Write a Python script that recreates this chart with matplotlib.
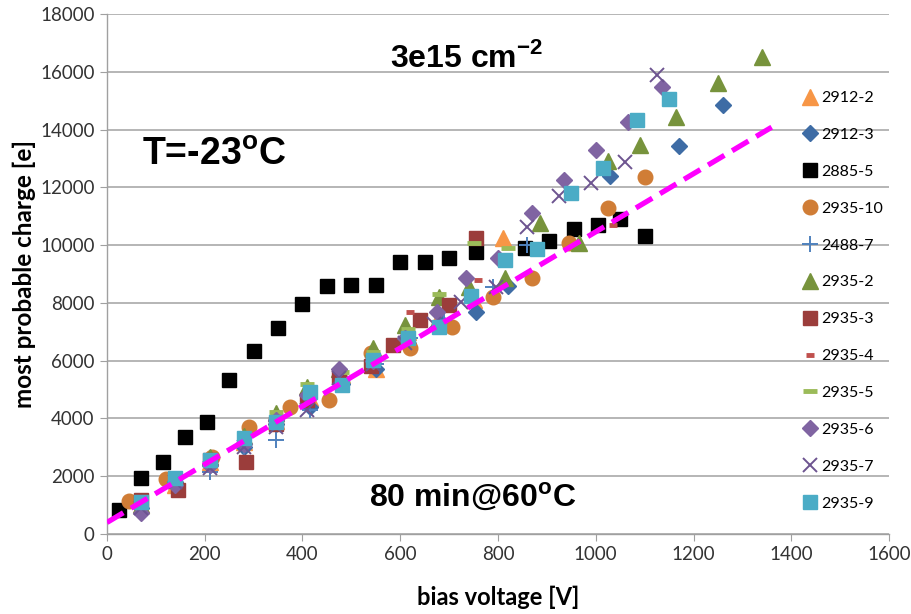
import matplotlib
matplotlib.use("Agg")
import matplotlib.pyplot as plt

plt.rcParams["mathtext.fontset"] = "custom"
plt.rcParams["mathtext.rm"] = "Liberation Sans"
plt.rcParams["mathtext.bf"] = "Liberation Sans:bold"

# ---- measured most probable charge vs. bias voltage ----
v_2912_2 = [70, 140, 210, 280, 345, 415, 480, 550, 615, 680, 750, 810]
q_2912_2 = [1000, 1700, 2500, 3200, 3900, 4700, 5500, 5700, 7000, 7500, 8100, 10240]

v_2912_3 = [70, 140, 210, 280, 345, 415, 480, 550, 615, 685, 755, 820, 1030, 1170, 1260]
q_2912_3 = [900, 1800, 2400, 3000, 3800, 4400, 5200, 5700, 6600, 7300, 7680, 8600, 12400, 13430, 14850]

v_2885_5 = [25, 70, 115, 160, 205, 250, 300, 350, 400, 450, 500, 550, 600, 650, 700,
            755, 855, 905, 955, 1005, 1050, 1100]
q_2885_5 = [830, 1930, 2500, 3370, 3890, 5330, 6350, 7120, 7960, 8580, 8620, 8620, 9400,
            9430, 9570, 9770, 9890, 10140, 10550, 10700, 10890, 10310]

v_2935_10 = [45, 120, 215, 290, 375, 455, 540, 620, 705, 790, 870, 945, 1025, 1100]
q_2935_10 = [1150, 1900, 2650, 3700, 4400, 4650, 6250, 6450, 7150, 8200, 8850, 10080, 11300, 12370]

v_2488_7 = [70, 140, 210, 280, 345, 415, 480, 550, 620, 690, 790, 860]
q_2488_7 = [900, 1800, 2150, 3000, 3250, 4300, 5400, 5900, 6800, 7400, 8560, 10000]

v_2935_2 = [70, 140, 210, 280, 345, 410, 475, 545, 610, 680, 740, 815, 885, 965,
            1025, 1090, 1165, 1250, 1340]
q_2935_2 = [1000, 1900, 2650, 3400, 4180, 5100, 5700, 6430, 7230, 8210, 8560, 8850,
            10750, 10060, 12900, 13470, 14450, 15620, 16510]

v_2935_3 = [70, 145, 210, 285, 345, 410, 475, 540, 585, 640, 700, 755]
q_2935_3 = [1180, 1520, 2560, 2480, 3800, 4640, 5450, 5800, 6540, 7410, 7930, 10240]

v_2935_4 = [70, 140, 210, 280, 350, 415, 480, 550, 620, 760, 1035]
q_2935_4 = [1100, 1800, 2500, 3300, 3950, 4600, 5300, 5900, 7690, 8790, 10700]

v_2935_5 = [70, 140, 210, 280, 345, 410, 480, 545, 615, 680, 750, 820]
q_2935_5 = [1100, 2000, 2700, 3400, 4230, 5200, 5600, 6300, 7100, 8310, 10060, 9890]

v_2935_6 = [70, 140, 210, 280, 345, 410, 475, 545, 610, 675, 735, 800, 870, 935,
            1000, 1065, 1135]
q_2935_6 = [720, 1700, 2400, 3100, 3950, 4800, 5700, 6000, 6800, 7700, 8850, 9540,
            11100, 12250, 13290, 14270, 15480]

v_2935_7 = [70, 140, 210, 280, 345, 410, 475, 545, 610, 670, 725, 795, 860, 925,
            990, 1060, 1125]
q_2935_7 = [900, 1800, 2300, 3000, 3700, 4300, 5400, 5900, 6600, 7270, 8040, 8560,
            10640, 11700, 12140, 12890, 15890]

v_2935_9 = [70, 140, 210, 280, 345, 415, 480, 545, 615, 680, 745, 815, 880, 950,
            1015, 1085, 1150]
q_2935_9 = [1120, 1930, 2560, 3310, 3890, 4930, 5160, 6020, 6770, 7180, 8250, 9490,
            9860, 11810, 12660, 14330, 15050]

# linear trend line
fit_slope = 10.06
fit_intercept = 400.0
fit_v = [0, 1360]

x_ticks = [0, 200, 400, 600, 800, 1000, 1200, 1400, 1600]
y_ticks = [0, 2000, 4000, 6000, 8000, 10000, 12000, 14000, 16000, 18000]

series = [
    ("2912-2", v_2912_2, q_2912_2, dict(marker="^", ms=11, color="#F79646")),
    ("2912-3", v_2912_3, q_2912_3, dict(marker="D", ms=8, color="#3E6CA5")),
    ("2885-5", v_2885_5, q_2885_5, dict(marker="s", ms=10, color="#000000")),
    ("2935-10", v_2935_10, q_2935_10, dict(marker="o", ms=10.5, color="#D07D36")),
    ("2488-7", v_2488_7, q_2488_7, dict(marker="+", ms=11, mew=1.4, color="#4F81BD")),
    ("2935-2", v_2935_2, q_2935_2, dict(marker="^", ms=11, color="#77933C")),
    ("2935-3", v_2935_3, q_2935_3, dict(marker="s", ms=10.5, color="#9B3D3B")),
    ("2935-4", v_2935_4, q_2935_4, dict(marker="_", ms=6, mew=3.5, color="#C0504D")),
    ("2935-5", v_2935_5, q_2935_5, dict(marker="_", ms=10, mew=3.5, color="#9BBB59")),
    ("2935-6", v_2935_6, q_2935_6, dict(marker="D", ms=8, color="#8064A2")),
    ("2935-7", v_2935_7, q_2935_7, dict(marker="x", ms=10, mew=1.4, color="#6D5490")),
    ("2935-9", v_2935_9, q_2935_9, dict(marker="s", ms=10.5, color="#4BACC6")),
]

fig = plt.figure(figsize=(9.12, 6.14), dpi=100)
ax = fig.add_axes([107 / 912, 1 - 534 / 614, (889 - 107) / 912, (534 - 14) / 614])

handles = []
for name, xs, ys, st in series:
    st = dict(st)
    col = st.pop("color")
    h, = ax.plot(xs, ys, linestyle="none", color=col, markerfacecolor=col,
                 markeredgecolor=col, label=name, zorder=3, **st)
    handles.append(h)

fit_q = [fit_slope * v + fit_intercept for v in fit_v]
ax.plot(fit_v, fit_q, color="#FF00FF", lw=3.8, dashes=(3.6, 1.7), zorder=4,
        solid_capstyle="butt", dash_capstyle="butt")

ax.set_xlim(0, 1600)
ax.set_ylim(0, 18000)
ax.set_xticks(x_ticks)
ax.set_yticks(y_ticks)
ax.grid(axis="y", color="#B0B0B0", lw=1.3, zorder=0)
ax.set_axisbelow(True)
for s in ("top", "right"):
    ax.spines[s].set_visible(False)
for s in ("left", "bottom"):
    ax.spines[s].set_color("#A0A0A0")
    ax.spines[s].set_linewidth(1.0)
ax.tick_params(axis="both", direction="out", length=5, color="#A0A0A0",
               labelsize=13.5, labelcolor="#333333", pad=4)
for lab in ax.get_xticklabels() + ax.get_yticklabels():
    lab.set_fontfamily("Lato")

ax.set_xlabel("bias voltage [V]", fontsize=17, fontweight="bold",
              fontfamily="Lato", labelpad=16)
ax.set_ylabel("most probable charge [e]", fontsize=17.5, fontweight="bold",
              fontfamily="Lato", labelpad=3)

ax.text(0.460, 0.915, r"3e15 cm$^{\mathbf{-2}}$", transform=ax.transAxes,
        fontsize=23, fontweight="bold", fontfamily="Liberation Sans",
        ha="center", va="center")
ax.text(0.137, 0.729, r"T=-23$^{\mathbf{o}}$C", transform=ax.transAxes,
        fontsize=27, fontweight="bold", fontfamily="Liberation Sans",
        ha="center", va="center")
ax.text(0.467, 0.069, r"80 min@60$^{\mathbf{o}}$C", transform=ax.transAxes,
        fontsize=23, fontweight="bold", fontfamily="Liberation Sans",
        ha="center", va="center")

leg = ax.legend(handles=handles, loc="upper left", bbox_to_anchor=(803 / 912, 1 - 91 / 614),
                bbox_transform=fig.transFigure, frameon=False, numpoints=1,
                handlelength=0.9, handletextpad=0.25, labelspacing=1.42,
                borderpad=0, borderaxespad=0,
                prop={"family": "Lato", "size": 11.5})

fig.savefig("out.png", dpi=100)
